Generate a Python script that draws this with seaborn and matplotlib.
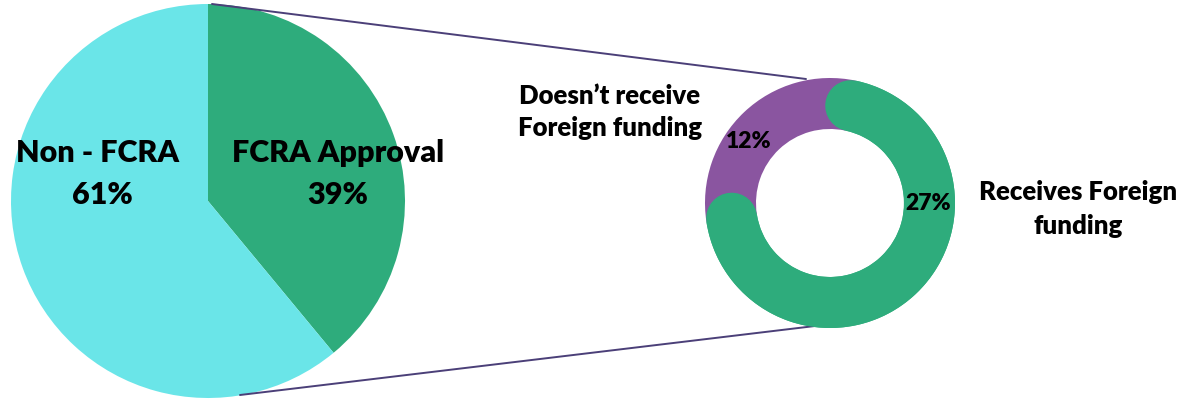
import numpy as np
import matplotlib
matplotlib.use("Agg")
import matplotlib.pyplot as plt
import seaborn as sns

# FCRA status of organisations
pie_labels = ["FCRA Approval", "Non - FCRA"]
pie_values = [39, 61]

# Breakdown of the FCRA-approved share
donut_labels = ["Receives Foreign\nfunding", "Doesn\u2019t receive\nForeign funding"]
donut_values = [27, 12]

sns.set_theme(style="white")
plt.rcParams["font.family"] = ["Lato", "DejaVu Sans"]

green = "#2eac7c"
cyan = "#6ae5e8"
purple = "#8a55a0"
line_col = "#4b3f78"

W, H = 1200, 401
fig = plt.figure(figsize=(W / 100, H / 100), dpi=100)
ax = fig.add_axes([0, 0, 1, 1])

# Main pie
pie_c, pie_r = (208, 200), 197
ax.pie(pie_values, colors=[green, cyan], startangle=90, counterclock=False,
       center=pie_c, radius=pie_r, frame=True,
       wedgeprops=dict(linewidth=0))

# Donut
don_c, don_r, don_w = (830, 198), 125, 51
start = 78
ax.pie(donut_values, colors=[green, purple], startangle=start, counterclock=False,
       center=don_c, radius=don_r, frame=True,
       wedgeprops=dict(width=don_w, linewidth=0))

# Rounded green arc on top of the ring
span = 360 * donut_values[0] / sum(donut_values)
theta = np.radians(np.linspace(start, start - span, 300))
mid_r = don_r - don_w / 2
ax.plot(don_c[0] + mid_r * np.cos(theta), don_c[1] + mid_r * np.sin(theta),
        color=green, lw=don_w * 0.72, solid_capstyle="round", zorder=3)

# Connector lines from the pie to the donut
ax.plot([212, 806], [H - 4, H - 79], color=line_col, lw=1.4, zorder=1)
ax.plot([240, 815], [H - 395, H - 326], color=line_col, lw=1.4, zorder=1)

ax.set_xlim(0, W)
ax.set_ylim(0, H)
ax.set_aspect("equal")
ax.axis("off")

bold = dict(fontweight="heavy", color="black", ha="center", va="center")

# Pie labels
ax.text(97, H - 153, pie_labels[1], fontsize=22, **bold)
ax.text(102, H - 195, f"{pie_values[1]}%", fontsize=22, **bold)
ax.text(338, H - 153, pie_labels[0], fontsize=22, **bold)
ax.text(338, H - 195, f"{pie_values[0]}%", fontsize=22, **bold)

# Donut labels
ax.text(610, H - 112, donut_labels[1], fontsize=18.5, linespacing=1.45, **bold)
ax.text(1078, H - 209, donut_labels[0], fontsize=18.5, linespacing=1.45, **bold)
ax.text(749, H - 141, f"{donut_values[1]}%", fontsize=16.5, zorder=5, **bold)
ax.text(928, H - 204, f"{donut_values[0]}%", fontsize=16.5, zorder=5, **bold)

fig.savefig("out.png", dpi=100, facecolor="white")
